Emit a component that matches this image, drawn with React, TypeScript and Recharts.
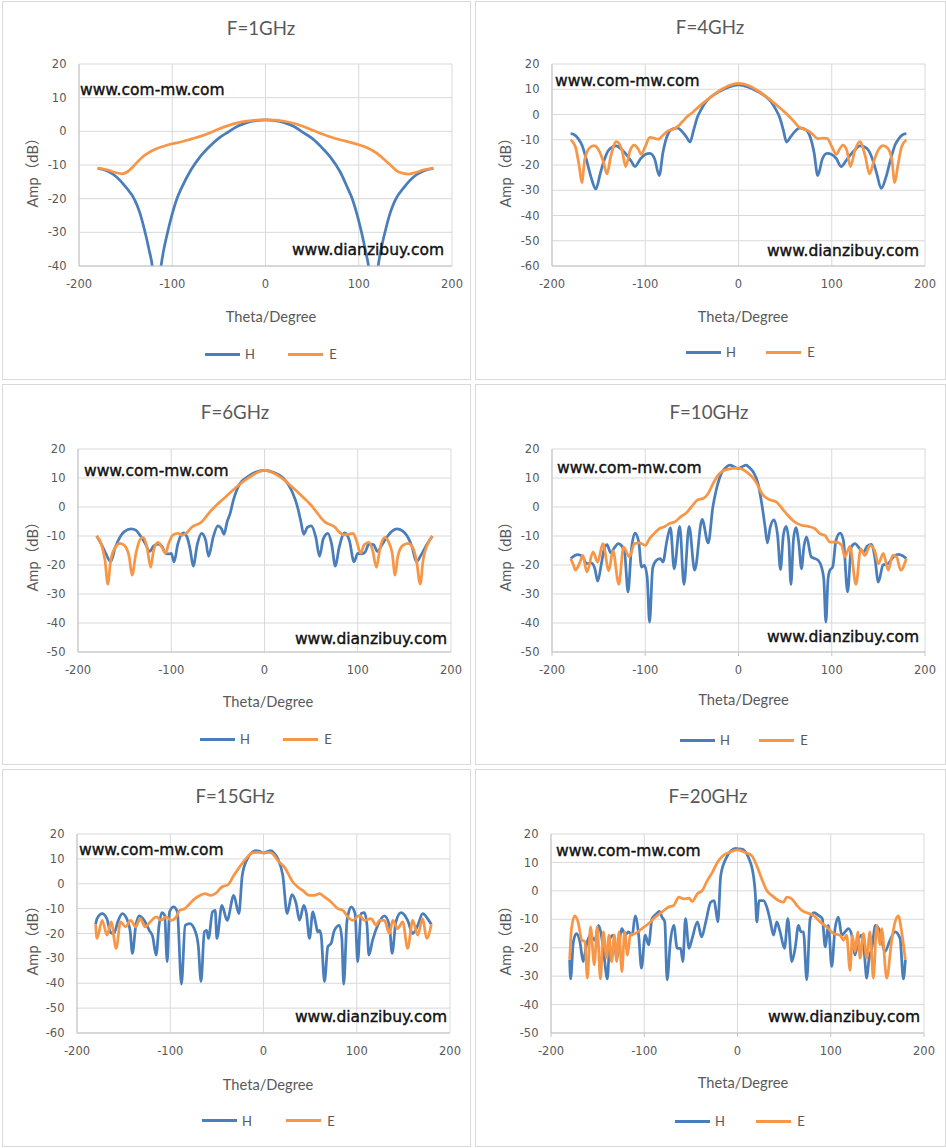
import { CartesianGrid, Line, LineChart, XAxis, YAxis } from 'recharts';

type Pt = [number, number];

const X_TICKS = [-200, -100, 0, 100, 200];
const Y_TICKS_40 = [-40, -30, -20, -10, 0, 10, 20];
const Y_TICKS_50 = [-50, -40, -30, -20, -10, 0, 10, 20];
const Y_TICKS_60 = [-60, -50, -40, -30, -20, -10, 0, 10, 20];

// [theta (deg), amplitude (dB)]
const H_1GHZ: Pt[] = [
  [-180, -11], [-170, -11.7], [-160, -13.5], [-150, -16.5], [-140, -20.5], [-135, -24], [-130, -29],
  [-125, -35], [-121, -41], [-117, -56], [-112, -40], [-110, -36.5], [-105, -30], [-100, -24.5],
  [-95, -20], [-90, -16.8], [-80, -11.5], [-70, -7.5], [-60, -4.5], [-50, -2], [-40, -0.2],
  [-30, 1.5], [-20, 2.6], [-10, 3.2], [0, 3.4], [10, 3.2], [20, 2.6], [30, 1.5], [40, -0.3],
  [50, -2.1], [60, -4.7], [70, -7.8], [80, -12], [88, -16.8], [93, -20], [98, -24.5], [103, -30],
  [108, -36.5], [110.5, -40], [115.5, -56], [120.8, -40], [124, -35], [129, -29], [134, -24],
  [139, -20.5], [149, -16.5], [159, -13.5], [170, -11.7], [180, -11],
];
const E_1GHZ: Pt[] = [
  [-180, -10.9], [-170, -11.4], [-160, -12.3], [-154, -12.6], [-148, -12], [-143, -10.8], [-137, -9],
  [-131, -7.4], [-125, -6.3], [-117, -5.2], [-110, -4.5], [-100, -3.7], [-90, -3.1], [-80, -2.3],
  [-70, -1.5], [-60, -0.5], [-50, 0.7], [-40, 1.7], [-30, 2.5], [-20, 3], [-10, 3.3], [0, 3.4],
  [10, 3.3], [20, 3], [30, 2.4], [40, 1.5], [50, 0.4], [60, -0.7], [70, -1.7], [80, -2.5], [90, -3.2],
  [100, -4], [110, -5], [120, -6.6], [127, -8.3], [134, -10], [141, -11.8], [148, -12.5],
  [153, -12.7], [160, -12.3], [170, -11.4], [180, -10.9],
];

const H_4GHZ: Pt[] = [
  [-180, -7.6], [-176, -8], [-172, -9.5], [-168, -12], [-163, -18], [-158, -25], [-153, -29.5],
  [-148, -23], [-144, -18], [-140, -14.5], [-135, -12.8], [-131, -12.4], [-125, -14], [-120, -16],
  [-115, -18.5], [-111, -20.6], [-105, -17.5], [-100, -15.8], [-95, -15.4], [-90, -17.5],
  [-85, -24.2], [-81, -15], [-77, -9], [-72, -6], [-66, -5.3], [-61, -6.5], [-56, -8.8],
  [-52, -10.9], [-48, -6], [-44, -1], [-40, 2], [-35, 5], [-30, 6.8], [-20, 9.2], [-10, 10.9],
  [0, 11.7], [10, 10.9], [20, 9.2], [30, 6.8], [35, 5], [40, 2], [44, -1], [48, -6], [51.5, -10.9],
  [56, -8.8], [61, -6.5], [66, -5.3], [72, -6], [77, -9], [81, -15], [85, -24.2], [90, -17.5],
  [95, -15.4], [100, -15.8], [105, -17.5], [110, -20.6], [115, -18.5], [120, -16], [125, -14],
  [130, -12.4], [135, -12.8], [140, -14.5], [144, -18], [148, -23], [153, -29.3], [158, -25],
  [163, -18], [168, -12], [172, -9.5], [176, -8], [180, -7.6],
];
const E_4GHZ: Pt[] = [
  [-180, -10], [-175, -12.7], [-171, -20], [-168, -27], [-165, -18], [-160, -13.3], [-155, -12.3],
  [-150, -14], [-145, -18.6], [-141, -23.5], [-137, -16.6], [-131, -10.7], [-125, -14], [-121, -20.6],
  [-116, -14], [-112, -12.1], [-107, -14], [-104.5, -15.8], [-100, -12.7], [-95, -9.1], [-90, -9.4],
  [-86, -9.8], [-80, -7.8], [-75, -6.4], [-70, -5.8], [-65, -4.7], [-60, -2.8], [-55, -0.8],
  [-50, 0.6], [-40, 3.9], [-30, 6.9], [-20, 9.5], [-10, 11.5], [0, 12.3], [10, 11.6], [20, 9.6],
  [30, 7], [40, 4], [50, 0.8], [55, -1], [60, -3], [65, -5], [70, -5.8], [75, -6.5], [80, -8],
  [85, -9.6], [90, -9.4], [95, -9.5], [100, -12.7], [105, -15.8], [108, -14], [112, -12.1],
  [116, -14], [120, -20.6], [125, -14], [130, -10.7], [136, -16.6], [140.5, -23.5], [145, -18.6],
  [150, -14], [155, -12.3], [160, -13.3], [164.5, -18], [167.5, -27], [171, -20], [175, -12.7],
  [180, -10],
];

const H_6GHZ: Pt[] = [
  [-180, -10], [-175, -12.8], [-170, -16.2], [-165, -18.9], [-160, -13.9], [-155, -10.4],
  [-150, -8.4], [-143, -7.5], [-138, -8], [-133, -10], [-128, -12.5], [-123, -15.3], [-119, -13.5],
  [-114, -12.8], [-110, -13.5], [-106, -16], [-103, -16.2], [-100, -16], [-97, -18.9], [-93, -12.8],
  [-87, -8.9], [-83, -10.4], [-79.5, -15], [-76.5, -20.4], [-72, -12.8], [-67.5, -9.1], [-63, -11.6],
  [-60, -17], [-55, -10.4], [-50, -6.5], [-46, -7.6], [-43.5, -9.4], [-40, -5], [-37, -2.4],
  [-33.5, 2.2], [-26.5, 8], [-20, 10], [-10, 12], [0, 12.6], [10, 11.9], [20, 10], [25, 8],
  [30, 5], [35, 0.5], [39, -5], [42, -9.4], [46, -7], [50, -6.5], [55, -10.4], [59, -17], [63, -11],
  [68, -9.1], [72, -12.8], [76, -20.4], [80, -14], [86, -8.9], [91, -11.5], [96, -18.9], [100, -16],
  [104, -16.2], [108, -15.5], [112, -12.8], [117, -13], [121, -15.3], [126, -13], [131, -10.5],
  [136, -8.5], [142, -7.5], [148, -8.2], [153, -10], [158, -13.5], [163, -18.9], [168, -16.5],
  [174, -13], [180, -10],
];
const E_6GHZ: Pt[] = [
  [-180, -10], [-175, -12.8], [-171, -18.5], [-168, -26.6], [-165, -18.5], [-160, -13.9],
  [-155, -12.5], [-150, -13.3], [-145, -17.4], [-142, -23.5], [-138, -16.2], [-133, -11],
  [-130, -10.5], [-126, -13.9], [-122, -20.8], [-119, -15.1], [-114, -12.2], [-110, -13.9],
  [-106, -15.9], [-103, -12.8], [-98, -9.6], [-93, -9.1], [-88, -9.7], [-83, -8.8], [-78, -7],
  [-73, -6.1], [-68, -5.3], [-63, -3.5], [-58, -1.5], [-50, 1.1], [-40, 4], [-30, 6.9], [-20, 9.4],
  [-10, 11.5], [0, 12.6], [10, 11.6], [20, 9.6], [30, 6.8], [40, 3.8], [50, 0.6], [55, -1.4],
  [60, -3.5], [65, -5.2], [70, -6], [75, -6.8], [80, -8.6], [85, -9.6], [90, -9.4], [95, -9.1],
  [99, -12], [103, -15.9], [107, -13], [112, -12.2], [116, -15], [120, -20.8], [124, -14],
  [129, -10.5], [133, -12], [137, -16], [140, -23.5], [143, -17], [148, -13.3], [154, -12.5],
  [159, -14], [163, -18.5], [167, -26.6], [170, -18.5], [175, -12.8], [180, -10],
];

const H_10GHZ: Pt[] = [
  [-180, -17.8], [-176, -16.8], [-172, -16.4], [-167, -17.2], [-163, -19.5], [-158, -19.3],
  [-154, -21.3], [-151, -25.6], [-147, -19.5], [-144, -14.4], [-141, -13], [-137, -15.8],
  [-133, -14], [-129, -12.6], [-125, -13.5], [-122, -16], [-118.5, -29.3], [-115, -15], [-111, -9],
  [-107, -12], [-104, -20.7], [-101, -20.1], [-98, -24], [-95.4, -39.7], [-92, -21], [-88, -18.4],
  [-84, -17.8], [-81, -19], [-77, -12], [-73, -7.1], [-69, -21.3], [-63, -6.7], [-58.5, -26.7],
  [-53, -6.7], [-47, -21.8], [-39, -4.3], [-32.5, -12.4], [-27.5, 0], [-24, 5.7], [-18.5, 11.5],
  [-13, 13.8], [-9, 14.4], [-5, 13.9], [0, 13.3], [4, 13.9], [8, 14.4], [12, 13.5], [16, 12],
  [21, 8], [25.5, 0], [28.5, -6.9], [31, -12.4], [34, -7], [38, -4.4], [42, -10], [45, -21.6],
  [48, -10], [51, -6.7], [54, -12], [56.2, -26.7], [59, -11], [61.5, -7.1], [64.5, -12],
  [67.6, -21.3], [70, -14], [73, -10.3], [78, -17.2], [82, -17.8], [85.5, -18.4], [89, -20.7],
  [91.5, -25], [93.7, -39.7], [96, -25], [98, -21.8], [101, -20.7], [104.5, -11.5], [109, -9],
  [112.5, -11.5], [117, -29.3], [121, -13.8], [125, -12.6], [130, -14.4], [134, -15.5], [138, -13.5],
  [142.8, -12.9], [146, -17], [150, -25.9], [155, -20], [160.6, -19.5], [166, -17.2],
  [171.4, -16.3], [176, -16.8], [180, -17.8],
];
const E_10GHZ: Pt[] = [
  [-180, -17.8], [-177, -20], [-175, -21.8], [-170, -19], [-167, -16.7], [-162.6, -22.4],
  [-156, -15.5], [-151, -19], [-145.5, -12.6], [-139, -22], [-134.7, -15], [-128.3, -26.7],
  [-123.3, -13.8], [-117, -17.2], [-111.4, -12.6], [-106, -12.4], [-100, -13.2], [-95.4, -10.9],
  [-90, -9], [-85, -7.5], [-79, -6.7], [-74, -5.7], [-68.5, -5.2], [-61.4, -3.2], [-56, -2.1],
  [-50.6, 0], [-43.5, 2.5], [-38, 2.9], [-32.7, 4.6], [-27.4, 8], [-22, 10.9], [-13, 12.9],
  [0, 13.4], [8.6, 12.1], [17.5, 9.2], [26.5, 4], [33.6, 2.5], [40.8, 1.7], [49.7, -1.7],
  [60.5, -5.2], [67.6, -6.3], [74.8, -6.7], [82, -7.5], [87.3, -9.2], [92.7, -9.8], [98, -12.1],
  [105, -12.1], [110.6, -13.2], [114, -17.2], [119.5, -13.6], [126, -26.7], [131, -14.4],
  [135.6, -16.7], [141, -13.2], [146, -15], [150, -19.5], [155.3, -16], [160.6, -21.8],
  [165.3, -16.7], [169.6, -17.2], [173.9, -21.8], [180, -17.8],
];

const H_15GHZ: Pt[] = [
  [-180, -16.4], [-178.5, -14], [-173, -12], [-168, -14], [-164, -19.6], [-160.5, -20], [-156, -15],
  [-151.4, -12], [-146, -14.7], [-143, -19], [-140.6, -28], [-137, -17], [-133.3, -12.9],
  [-128, -14.7], [-122.5, -18.7], [-118.8, -21.3], [-115.2, -28.7], [-112, -16.7], [-109, -11.6],
  [-106, -12.7], [-103.3, -31.3], [-100.7, -11.3], [-96.4, -9.3], [-92.4, -11.3], [-88, -40.4],
  [-84, -16.7], [-79, -16], [-73.6, -18.7], [-70, -24.7], [-67, -39.3], [-63.4, -19.3], [-61, -18.7],
  [-59, -22], [-54.7, -11.3], [-51.8, -10.7], [-50, -22], [-44.6, -8.7], [-39, -14.7], [-31.9, -4.7],
  [-26.4, -12], [-22.8, 3.3], [-17.4, 10], [-12, 12.7], [-8.3, 13.3], [-4, 13], [0, 12.4],
  [4, 12.9], [7.5, 13.3], [11, 12.5], [15.4, 10], [20.7, 3.3], [25.4, -12], [30.4, -4.4], [35, -8],
  [38.6, -14.7], [43.2, -8.7], [46, -12], [49.3, -22], [52.9, -11.3], [56.4, -16.7], [58, -19.3],
  [60, -18.7], [61.8, -20.7], [65.4, -39.3], [69, -25.3], [72.5, -24], [76, -18.7], [81.4, -16.7],
  [84, -22], [86, -40.4], [89.6, -14.7], [94, -9.3], [98.2, -12], [101, -31.3], [104.6, -12],
  [108.2, -11.6], [111, -16.7], [113, -28.7], [117, -22.7], [122.5, -16.7], [129.6, -12.9],
  [135, -16.7], [137.9, -28], [142, -15.3], [147.5, -11.6], [154.6, -14.7], [160, -20],
  [165.4, -16.7], [170.7, -12], [176, -14], [180, -16.4],
];
const E_15GHZ: Pt[] = [
  [-180, -16.4], [-178.6, -22], [-173, -14.7], [-167.8, -20.7], [-163.4, -15.3], [-158, -26],
  [-153.3, -15.3], [-148, -17.3], [-142.4, -14.7], [-137, -17.3], [-132.2, -14], [-127, -17.3],
  [-121.4, -15.3], [-115, -13.3], [-109.8, -14.7], [-104.3, -13.3], [-99, -14.7], [-93.5, -13.3],
  [-90, -10.7], [-84.4, -10], [-79, -8], [-73.6, -6], [-68, -4.7], [-62.7, -4], [-57, -4.7],
  [-51.8, -4], [-44.6, -1.3], [-38, -0.4], [-31.9, 3.3], [-24.6, 7.3], [-17.4, 10.7], [-12, 12.4],
  [-6, 12.6], [0, 12.4], [6, 12.6], [10, 12], [15.4, 9.3], [22.5, 6.7], [31.4, 0.7], [36.8, -1.3],
  [42, -2.7], [49.3, -4.7], [54.6, -4.7], [60, -4], [65.4, -5.3], [72.5, -7.3], [79.6, -10],
  [85, -10.7], [90.4, -13.3], [95.7, -14.7], [102.9, -12.7], [108.2, -14.7], [115.4, -14],
  [120.7, -16.7], [124.3, -14.7], [129.6, -14.7], [135, -20], [138.6, -14.7], [144, -18],
  [149.3, -15.3], [154.6, -26], [160, -14.7], [165.4, -20.7], [170.7, -14], [175, -22],
  [180, -16.4],
];

const H_20GHZ: Pt[] = [
  [-180, -24.3], [-179, -31], [-176, -17.9], [-172.7, -15], [-169, -17.9], [-165.5, -24.9],
  [-162, -19], [-158, -15.6], [-153, -17.3], [-149, -12.1], [-146, -15.6], [-142.8, -23.7],
  [-139.6, -31], [-136.7, -16.7], [-133, -15.6], [-129.5, -23.7], [-124, -13.3], [-120.5, -15.6],
  [-117, -14.4], [-113, -15.6], [-109.7, -8.8], [-106, -15.6], [-103, -27.2], [-99, -15.6],
  [-95.3, -19], [-91.7, -9.8], [-88, -8.4], [-83.8, -7.2], [-81, -9.2], [-78, -10.9], [-75.5, -31.3],
  [-72, -17.9], [-68.3, -12.1], [-64.7, -20.2], [-61, -20.2], [-58.6, -24.9], [-55.8, -9.8],
  [-52, -20.2], [-48.6, -16.7], [-43, -10.9], [-38.5, -16.2], [-34, -10.9], [-28.8, -4], [-25, -3.4],
  [-23.4, -6.3], [-21, -10.9], [-18, 5.3], [-12.6, 11.2], [-7.2, 14], [-1.8, 14.9], [0, 14.8],
  [4.6, 14.7], [11.8, 11.7], [17.1, 5.3], [19, -0.5], [20.7, -10.9], [23.2, -3.4], [27.9, -3.4],
  [31.4, -5.7], [35, -10.3], [38.6, -15.6], [42.1, -10.9], [45.7, -14.4], [50.4, -20.2], [54, -9.8],
  [58.2, -24.9], [61.8, -20.2], [65.4, -12.1], [68, -14.4], [70.7, -14.4], [74.3, -31.3],
  [77.9, -9.8], [82, -7.7], [86.8, -8.6], [91, -9.8], [94, -19.7], [97.5, -12.1], [101, -26.6],
  [104.6, -13.3], [108.2, -9.2], [111.8, -15.6], [115.4, -14.4], [119, -13.3], [122.5, -15.6],
  [126, -22.6], [129, -18], [133.2, -15.6], [136, -22], [138.6, -30.7], [141, -24], [144, -20.2],
  [148, -12.1], [152.9, -14.4], [158, -21.4], [163.6, -17.3], [169, -14.4], [174.3, -16.7],
  [177.9, -31], [180, -24.3],
];
const E_20GHZ: Pt[] = [
  [-180, -24.3], [-178, -13.3], [-174.5, -8.8], [-171, -10.9], [-167, -17.3], [-163.7, -17.9],
  [-161, -30.7], [-157.6, -12.7], [-153.6, -26], [-150.4, -12.7], [-147, -31], [-143.9, -14.4],
  [-140.3, -23.7], [-137.8, -15.6], [-135, -24.9], [-132, -15.6], [-129.5, -24.9], [-127, -14.4],
  [-124, -28.4], [-121, -14.4], [-118, -22.6], [-115, -15.6], [-109.7, -15], [-102.5, -13.3],
  [-95.3, -11.5], [-88, -9.2], [-81, -7.4], [-73.7, -5.7], [-68.3, -5.1], [-62.9, -2.2],
  [-57.6, -2.8], [-52, -2.6], [-48.6, -3.7], [-43, -1], [-37.8, 0.1], [-32.4, 3.6], [-27, 6.5],
  [-21.6, 10], [-16, 12.3], [-9, 13.5], [0, 14.4], [8.2, 13.5], [15.4, 12.3], [20.7, 8.8], [26, 4.2],
  [31.4, 0.1], [36.8, -1.6], [43.9, -3.4], [49.3, -4], [52.9, -2.2], [58.2, -2.8], [63.6, -5.1],
  [68.9, -6.9], [74.3, -7.7], [81.4, -8.6], [88.6, -10.9], [95.7, -12.7], [102.9, -15], [110, -15.6],
  [113.6, -17.3], [117, -15.6], [120.7, -28], [123.2, -15.6], [126, -21.4], [129, -14.4],
  [131.4, -23.7], [135, -15], [138.6, -23.7], [142, -14.4], [145.7, -30.7], [149.3, -12.1],
  [152.9, -19], [154.6, -13.3], [160, -30.7], [165.4, -17.3], [169, -10.9], [172.5, -8.8],
  [176, -14.4], [180, -24.3],
];

const H_COLOR = '#4a7ebb';
const E_COLOR = '#f79646';
const GRID_COLOR = '#d9d9d9';
const AXIS_COLOR = '#c4c4c4';
const TEXT_COLOR = '#595959';
const SANS = 'Lato, "Noto Sans CJK SC", sans-serif';
const TICK_FONT = '"DejaVu Sans", sans-serif';

const PLOT_W = 373;
const X_AXIS_H = 30;

interface PanelSpec {
  title: string;
  h: Pt[];
  e: Pt[];
  yTicks: number[];
  left: number;
  top: number;
  width: number;
  height: number;
  plotLeft: number;
  plotTop: number;
  plotH: number;
  tickMarks: boolean;
  titlePos: [number, number];
  wmTop: [number, number];
  wmBottom: [number, number];
  xLabelPos: [number, number];
  yLabelY: number;
  legend: [number, number, number];
}

const PANELS: PanelSpec[] = [
  {
    title: 'F=1GHz', h: H_1GHZ, e: E_1GHZ, yTicks: Y_TICKS_40,
    left: 2, top: 1, width: 469, height: 379, plotLeft: 77, plotTop: 63, plotH: 202, tickMarks: false,
    titlePos: [259, 26.5], wmTop: [78, 95], wmBottom: [442, 255], xLabelPos: [269, 315.5], yLabelY: 168,
    legend: [203, 286, 353],
  },
  {
    title: 'F=4GHz', h: H_4GHZ, e: E_4GHZ, yTicks: Y_TICKS_60,
    left: 475, top: 1, width: 471, height: 379, plotLeft: 77, plotTop: 63, plotH: 202, tickMarks: false,
    titlePos: [235, 26], wmTop: [80, 86.5], wmBottom: [444, 256.5], xLabelPos: [268, 315.5], yLabelY: 168,
    legend: [211, 291, 351],
  },
  {
    title: 'F=6GHz', h: H_6GHZ, e: E_6GHZ, yTicks: Y_TICKS_50,
    left: 2, top: 384, width: 469, height: 381, plotLeft: 76, plotTop: 65, plotH: 203, tickMarks: false,
    titlePos: [233, 27.7], wmTop: [82, 93.5], wmBottom: [445, 261.5], xLabelPos: [266, 317.5], yLabelY: 169,
    legend: [198, 281, 355],
  },
  {
    title: 'F=10GHz', h: H_10GHZ, e: E_10GHZ, yTicks: Y_TICKS_50,
    left: 475, top: 384, width: 471, height: 381, plotLeft: 77, plotTop: 65, plotH: 203, tickMarks: true,
    titlePos: [234, 27.7], wmTop: [82, 90.5], wmBottom: [444, 259.5], xLabelPos: [268.5, 316], yLabelY: 169,
    legend: [205, 284, 356],
  },
  {
    title: 'F=15GHz', h: H_15GHZ, e: E_15GHZ, yTicks: Y_TICKS_60,
    left: 2, top: 769, width: 469, height: 378, plotLeft: 75, plotTop: 65, plotH: 199, tickMarks: false,
    titlePos: [233, 26.7], wmTop: [77, 87.5], wmBottom: [445, 254.5], xLabelPos: [266, 316], yLabelY: 168,
    legend: [200, 284, 351.7],
  },
  {
    title: 'F=20GHz', h: H_20GHZ, e: E_20GHZ, yTicks: Y_TICKS_50,
    left: 475, top: 769, width: 471, height: 378, plotLeft: 76, plotTop: 65, plotH: 199, tickMarks: true,
    titlePos: [233, 26.7], wmTop: [81, 88.5], wmBottom: [445, 254.5], xLabelPos: [268, 313.7], yLabelY: 168,
    legend: [200, 281, 352],
  },
];

const toPoints = (pts: Pt[]) => pts.map(([t, v]) => ({ t, v }));

const centered = (x: number, y: number): React.CSSProperties => ({
  position: 'absolute',
  left: x,
  top: y,
  transform: 'translate(-50%, -50%)',
  whiteSpace: 'nowrap',
  lineHeight: 1,
});

function LegendItem({ x, y, color, label }: { x: number; y: number; color: string; label: string }) {
  return (
    <>
      <div style={{ position: 'absolute', left: x, top: y - 1.5, width: 35, height: 3, background: color }} />
      <div style={{ ...centered(x + 45, y), fontFamily: SANS, fontSize: 13, color: TEXT_COLOR }}>{label}</div>
    </>
  );
}

function Watermark({ x, baseline, text, alignRight }: { x: number; baseline: number; text: string; alignRight?: boolean }) {
  return (
    <div
      style={{
        position: 'absolute',
        left: x,
        top: baseline - 13.1,
        transform: alignRight ? 'translateX(-100%)' : undefined,
        fontFamily: TICK_FONT,
        fontSize: 15.5,
        lineHeight: 1,
        color: '#111',
        WebkitTextStroke: '0.4px #111',
        whiteSpace: 'nowrap',
      }}
    >
      {text}
    </div>
  );
}

function Panel({ spec }: { spec: PanelSpec }) {
  const yMin = spec.yTicks[0];
  const rightMargin = spec.width - spec.plotLeft - PLOT_W;
  const bottomMargin = spec.height - spec.plotTop - spec.plotH - X_AXIS_H;
  const tickStyle = { fontSize: 11.5, fill: TEXT_COLOR, fontFamily: TICK_FONT };
  return (
    <div style={{ position: 'absolute', left: spec.left, top: spec.top, width: spec.width, height: spec.height }}>
      <div
        style={{
          position: 'absolute',
          inset: 0,
          border: `1px solid ${GRID_COLOR}`,
          boxSizing: 'border-box',
        }}
      />
      <LineChart
        width={spec.width}
        height={spec.height}
        margin={{ top: spec.plotTop, right: rightMargin, bottom: bottomMargin, left: 0 }}
      >
        <CartesianGrid stroke={GRID_COLOR} />
        <XAxis
          type="number"
          dataKey="t"
          domain={[-200, 200]}
          ticks={X_TICKS}
          interval={0}
          height={X_AXIS_H}
          axisLine={{ stroke: AXIS_COLOR }}
          tickLine={spec.tickMarks ? { stroke: AXIS_COLOR } : false}
          tickSize={4}
          tickMargin={10}
          tick={tickStyle}
        />
        <YAxis
          type="number"
          dataKey="v"
          domain={[yMin, 20]}
          ticks={spec.yTicks}
          interval={0}
          allowDataOverflow
          width={spec.plotLeft}
          axisLine={{ stroke: AXIS_COLOR }}
          tickLine={false}
          tickSize={4}
          tickMargin={8.5}
          tick={tickStyle}
        />
        <Line
          data={toPoints(spec.h)}
          dataKey="v"
          name="H"
          type="monotone"
          stroke={H_COLOR}
          strokeWidth={2.75}
          dot={false}
          isAnimationActive={false}
        />
        <Line
          data={toPoints(spec.e)}
          dataKey="v"
          name="E"
          type="monotone"
          stroke={E_COLOR}
          strokeWidth={2.75}
          dot={false}
          isAnimationActive={false}
        />
      </LineChart>
      <div style={{ ...centered(spec.titlePos[0], spec.titlePos[1]), fontFamily: SANS, fontSize: 18.67, color: TEXT_COLOR }}>
        {spec.title}
      </div>
      <div
        style={{
          ...centered(31, spec.yLabelY),
          transform: 'translate(-50%, -50%) rotate(-90deg)',
          fontFamily: SANS,
          fontSize: 14.67,
          color: TEXT_COLOR,
        }}
      >
        Amp（dB）
      </div>
      <div style={{ ...centered(spec.xLabelPos[0], spec.xLabelPos[1]), fontFamily: SANS, fontSize: 14.67, color: TEXT_COLOR }}>
        Theta/Degree
      </div>
      <Watermark x={spec.wmTop[0]} baseline={spec.wmTop[1]} text="www.com-mw.com" />
      <Watermark x={spec.wmBottom[0]} baseline={spec.wmBottom[1]} text="www.dianzibuy.com" alignRight />
      <LegendItem x={spec.legend[0]} y={spec.legend[2]} color={H_COLOR} label="H" />
      <LegendItem x={spec.legend[1]} y={spec.legend[2]} color={E_COLOR} label="E" />
    </div>
  );
}

export default function App() {
  return (
    <div style={{ position: 'absolute', left: 0, top: 0, width: 946, height: 1148, background: '#fff', overflow: 'hidden' }}>
      {PANELS.map((p) => (
        <Panel key={p.title} spec={p} />
      ))}
    </div>
  );
}
